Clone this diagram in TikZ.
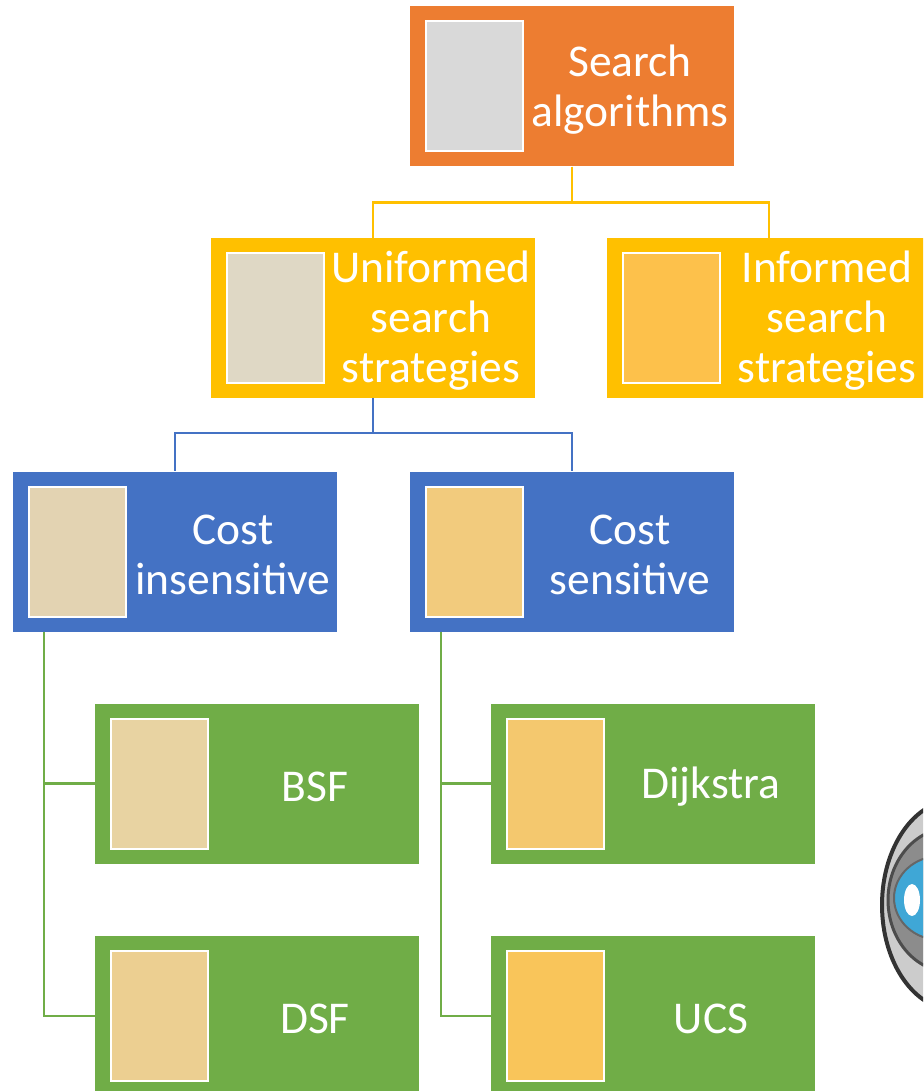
\documentclass[tikz,border=0pt]{standalone}
\usepackage{fontspec}
\setmainfont{Carlito}
\usepackage{tikz}
\usetikzlibrary{calc, positioning}

\definecolor{orng}{HTML}{ED7D31}
\definecolor{yllw}{HTML}{FFC000}
\definecolor{blu}{HTML}{4472C4}
\definecolor{grn}{HTML}{70AD47}
\definecolor{picSA}{HTML}{D9D9D9}
\definecolor{picUS}{HTML}{DFD8C5}
\definecolor{picIS}{HTML}{FDC14B}
\definecolor{picCI}{HTML}{E3D3B2}
\definecolor{picCS}{HTML}{F2CB7D}
\definecolor{picBSF}{HTML}{E8D3A2}
\definecolor{picDSF}{HTML}{ECCF91}
\definecolor{picDJ}{HTML}{F4C86E}
\definecolor{picUCS}{HTML}{F9C55A}
\definecolor{lens}{HTML}{3FA7D6}

\tikzset{
  box/.style={rectangle, inner sep=0pt, minimum width=324pt, minimum height=160pt},
  pic/.style={rectangle, draw=white, line width=2pt, inner sep=0pt, minimum width=97pt, minimum height=130pt},
  lbl/.style={text=white, align=center, inner sep=0pt, font=\fontsize{45.5}{50}\selectfont},
  link/.style={line width=2.5pt}
}

% box with its picture square and its text
\newcommand\chartbox[6]{%
  \node [box, fill=#4] (#1) at (#2,#3) {};
  \node [pic, fill=#5, anchor=west] (#1p) at ([xshift=15pt]#1.west) {};
  \node [lbl] (#1t) at ($ (#1p.east)!.5!(#1.east) + (1,3) $) {#6};
}

\begin{document}
\begin{tikzpicture}[x=1pt, y=-1pt]
\useasboundingbox (0,0) rectangle (923,1091);
\clip (0,0) rectangle (923,1091);

\chartbox{SA}{572}{86.5}{orng}{picSA}{Search\\algorithms}
\chartbox{US}{373}{318}{yllw}{picUS}{Uniformed\\search\\strategies}
\chartbox{IS}{769}{318}{yllw}{picIS}{Informed\\search\\strategies}
\chartbox{CI}{175}{551.5}{blu}{picCI}{Cost\\insensitive}
\chartbox{CS}{572}{551.5}{blu}{picCS}{Cost\\sensitive}
\chartbox{BSF}{257}{783.5}{grn}{picBSF}{BSF}
\chartbox{DSF}{257}{1016}{grn}{picDSF}{DSF}
\chartbox{DJ}{653}{783.5}{grn}{picDJ}{Dijkstra}
\chartbox{UCS}{653}{1016}{grn}{picUCS}{UCS}

\draw [link, yllw] (SA.south) -- ++(0,36) -| (US.north);
\draw [link, yllw] (SA.south) -- ++(0,36) -| (IS.north);
\draw [link, blu] (US.south) -- ++(0,35) -| (CI.north);
\draw [link, blu] (US.south) -- ++(0,35) -| (CS.north);
\draw [link, grn] ([xshift=31pt]CI.south west) |- (BSF.west);
\draw [link, grn] ([xshift=31pt]CI.south west) |- (DSF.west);
\draw [link, grn] ([xshift=31pt]CS.south west) |- (DJ.west);
\draw [link, grn] ([xshift=31pt]CS.south west) |- (UCS.west);

% robot head peeking in at the right edge
\draw [black!80, line width=4pt, fill=black!20] (955,905) ellipse [x radius=73, y radius=105];
\draw [black!70, line width=3pt, fill=black!45] (950,900) ellipse [x radius=62, y radius=72];
\draw [black!60, line width=2pt, fill=lens] (940,898) ellipse [x radius=46, y radius=42];
\fill [white] (912,900) ellipse [x radius=8, y radius=16];
\end{tikzpicture}
\end{document}
